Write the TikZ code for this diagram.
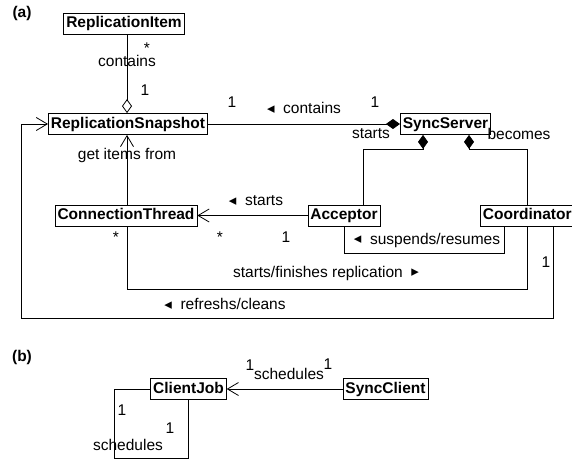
\documentclass[tikz,border=0pt]{standalone}
\usepackage{fontspec}
\setmainfont{Liberation Sans}
\newfontfamily\symf{DejaVu Sans}
\usetikzlibrary{arrows.meta}
\newcommand{\trl}{\raisebox{0.3pt}{\symf\fontsize{15}{15}\selectfont ◂}}
\newcommand{\trr}{\raisebox{0.3pt}{\symf\fontsize{15}{15}\selectfont ▸}}
\begin{document}
\begin{tikzpicture}[x=1pt,y=-1pt,
  cls/.style={draw,line width=0.8pt,fill=white,font=\fontsize{15.5}{18}\selectfont\bfseries,inner xsep=2.5pt,inner ysep=3pt,text height=11.5pt,text depth=3.5pt},
  lbl/.style={font=\fontsize{15.5}{18}\selectfont,inner sep=0pt},
  conn/.style={line width=0.8pt},
  barb/.style={-{Straight Barb[length=11pt,width=13pt,line width=0.8pt]}},
  odia/.style={-{Diamond[open,length=14pt,width=10pt,line width=0.8pt]}},
  fdia/.style={-{Diamond[length=14pt,width=10pt]}}]
\useasboundingbox (0,0) rectangle (572,460);

% panel labels
\node[lbl,font=\fontsize{15.5}{18}\selectfont\bfseries] (pa) at (22,13) {(a)};
\node[lbl,font=\fontsize{15.5}{18}\selectfont\bfseries] (pb) at (22,357) {(b)};

% classes (a)
\node[cls] (RI) at (124,23.5) {ReplicationItem};
\node[cls] (RS) at (128,124) {ReplicationSnapshot};
\node[cls] (SS) at (445.5,124) {SyncServer};
\node[cls] (CT) at (126,215.5) {ConnectionThread};
\node[cls] (AC) at (344,215.5) {Acceptor};
\node[cls,anchor=west] (CO) at (480,215.5) {Coordinator};

% classes (b)
\node[cls] (CJ) at (188.5,389) {ClientJob};
\node[cls] (SC) at (385.5,389) {SyncClient};

% connectors (a)
\draw[conn,odia] ([xshift=3pt]RI.south) -- ([xshift=-1pt]RS.north);
\draw[conn,fdia] (RS.east) -- (SS.west);
\draw[conn,fdia] ([xshift=19pt]AC.north) |- ([xshift=-22.5pt,yshift=-14pt]SS.south) -- ([xshift=-22.5pt]SS.south);
\draw[conn,fdia] (CO.north) |- ([xshift=23.5pt,yshift=-14pt]SS.south) -- ([xshift=23.5pt]SS.south);
\draw[conn,barb] (AC.west) -- (CT.east);
\draw[conn,barb] ([xshift=1pt]CT.north) -- ([xshift=-1pt]RS.south);
\draw[conn] (AC.south) |- ([xshift=-23pt,yshift=-27pt]CO.south) -- ([xshift=-23pt]CO.south);
\draw[conn] ([xshift=1pt]CT.south) |- ([yshift=-63pt]CO.south) -- (CO.south);
\coordinate (rc) at (21,318);
\draw[conn,barb] ([xshift=26pt]CO.south) |- (rc) |- (RS.west);

% connectors (b)
\draw[conn,barb] (SC.west) -- (CJ.east);
\coordinate (sl) at (114,458);
\draw[conn] (CJ.west) -| (sl) -| (CJ.south);

% labels (a)
\node[lbl] (l1) at (147,48) {*};
\node[lbl] (l2) at (127,61) {contains};
\node[lbl] (l3) at (145,90) {1};
\node[lbl] (l4) at (232,102) {1};
\node[lbl] (l5) at (304,108) {\trl\ \ contains};
\node[lbl] (l6) at (375,102) {1};
\node[lbl] (l7) at (371,134) {starts};
\node[lbl] (l8) at (519,134) {becomes};
\node[lbl] (l9) at (127,155) {get items from};
\node[lbl] (l10) at (256,201) {\trl\ \ starts};
\node[lbl] (l11) at (116,237) {*};
\node[lbl] (l12) at (220,237) {*};
\node[lbl] (l13) at (286,237) {1};
\node[lbl] (l14) at (427,240) {\trl\ \ suspends/resumes};
\node[lbl] (l15) at (326,273) {starts/finishes replication \ \trr};
\node[lbl] (l16) at (546,262) {1};
\node[lbl] (l17) at (225,304) {\trl\ \ refreshs/cleans};

% labels (b)
\node[lbl] (m1) at (250,365) {1};
\node[lbl] (m2) at (289,374) {schedules};
\node[lbl] (m3) at (328,364) {1};
\node[lbl] (m4) at (122,410) {1};
\node[lbl] (m5) at (170,428) {1};
\node[lbl] (m6) at (128,445) {schedules};
\end{tikzpicture}
\end{document}
